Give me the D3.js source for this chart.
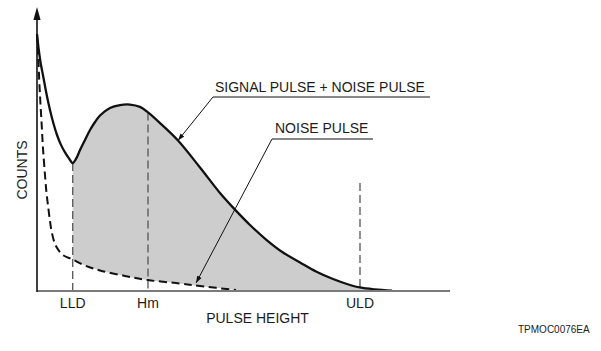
<!DOCTYPE html>
<html>
<head>
<meta charset="utf-8">
<script src="https://cdn.jsdelivr.net/npm/d3@7/dist/d3.min.js"></script>
<style>
  html, body { margin: 0; padding: 0; background: #fff; }
  svg { display: block; }
  text { font-family: "Liberation Sans", Arial, sans-serif; fill: #1c1c1c; }
</style>
</head>
<body>
<script>
// Pulse height distribution: signal + noise vs. noise only
const pulseHeight = [0, 0.37, 0.85, 1.54, 2.37, 3.17, 3.98, 4.88, 5.85, 6.83, 7.80, 8.71, 9.51, 10.49, 11.71, 12.93, 14.15, 15.37, 17.80, 20.24, 22.68, 25.12, 27.07, 30.0, 34.39, 39.76, 44.63, 48.29, 51.95, 56.02, 60.0, 64.15, 68.05, 72.2, 75.6, 78.78, 82.4, 86.6];
const signalCounts = [98.8, 93.5, 88.1, 82.3, 75.4, 69.6, 64.6, 60.0, 56.2, 53.3, 51.0, 49.2, 50.8, 54.2, 58.1, 61.9, 65.0, 67.5, 70.4, 71.5, 71.7, 70.8, 68.7, 64.6, 57.9, 47.5, 37.7, 31.3, 25.4, 19.6, 14.8, 11.0, 7.5, 4.6, 2.7, 1.35, 0.6, 0.1];

const noiseHeight = [0, 0.15, 0.32, 0.54, 0.73, 0.93, 1.15, 1.34, 1.54, 1.95, 2.32, 2.76, 3.17, 3.59, 4.39, 5.2, 6.34, 8.71, 11.71, 15.37, 21.46, 27.07, 34.88, 39.76, 48.54];
const noiseCounts = [98.8, 94.6, 89.6, 81.2, 75.4, 69.6, 63.8, 58.1, 53.1, 44.6, 37.7, 31.9, 26.9, 22.7, 18.1, 15.8, 13.8, 12.1, 9.8, 7.9, 5.8, 4.2, 2.9, 1.9, 0.4];

// Discriminator levels and peak position
const levelNames = ["LLD", "Hm", "ULD"];
const levelValues = [8.71, 27.07, 78.78];
const levelTops = [49.2, 68.7, 41.5];

// Callout labels and the points they point to
const calloutTexts = ["SIGNAL PULSE + NOISE PULSE", "NOISE PULSE"];
const calloutTargets = [[34.39, 57.9], [38.8, 3.1]];

const W = 601, H = 351;
const svg = d3.select("body").append("svg").attr("width", W).attr("height", H);

const x = d3.scaleLinear().domain([0, 100]).range([37, 447]);
const y = d3.scaleLinear().domain([0, 100]).range([291, 31]);

const defs = svg.append("defs");
defs.append("marker")
  .attr("id", "tip").attr("viewBox", "0 0 10 10")
  .attr("refX", 10).attr("refY", 5)
  .attr("markerWidth", 7).attr("markerHeight", 7)
  .attr("markerUnits", "userSpaceOnUse")
  .attr("orient", "auto")
  .append("path").attr("d", "M0,1.5 L10,5 L0,8.5 Z").attr("fill", "#111");

defs.append("clipPath").attr("id", "window")
  .append("rect")
  .attr("x", x(levelValues[0])).attr("y", 0)
  .attr("width", W - x(levelValues[0])).attr("height", y(0));

const signal = pulseHeight.map((h, i) => [h, signalCounts[i]]);
const noise = noiseHeight.map((h, i) => [h, noiseCounts[i]]);

const curve = d3.curveCatmullRom.alpha(0.5);
const line = d3.line().x(d => x(d[0])).y(d => y(d[1])).curve(curve);
const area = d3.area().x(d => x(d[0])).y0(y(0)).y1(d => y(d[1])).curve(curve);

// shaded counting window between the two curves
svg.append("path").datum(signal)
  .attr("d", area).attr("fill", "#cdcdcd").attr("clip-path", "url(#window)");
svg.append("path").datum(noise)
  .attr("d", area).attr("fill", "#fff");

// level markers
levelValues.forEach((v, i) => {
  svg.append("line")
    .attr("x1", x(v)).attr("x2", x(v))
    .attr("y1", y(levelTops[i])).attr("y2", y(0))
    .attr("stroke", "#555").attr("stroke-width", 1.3)
    .attr("stroke-dasharray", "8,4");
  svg.append("text")
    .attr("x", x(v)).attr("y", 308)
    .attr("text-anchor", "middle").attr("font-size", 14)
    .text(levelNames[i]);
});

// curves
svg.append("path").datum(noise)
  .attr("d", line).attr("fill", "none")
  .attr("stroke", "#111").attr("stroke-width", 2)
  .attr("stroke-dasharray", "8,4.5");
svg.append("path").datum(signal)
  .attr("d", line).attr("fill", "none")
  .attr("stroke", "#111").attr("stroke-width", 2.3);

// axes
svg.append("line")
  .attr("x1", x(0)).attr("x2", 450).attr("y1", y(0)).attr("y2", y(0))
  .attr("stroke", "#7a7a7a").attr("stroke-width", 2.2);
svg.append("line")
  .attr("x1", x(0)).attr("x2", x(0)).attr("y1", y(0) + 1).attr("y2", 16)
  .attr("stroke", "#111").attr("stroke-width", 1.6);
svg.append("path")
  .attr("d", `M${x(0)},7 L${x(0) - 3.6},20 L${x(0) + 3.6},20 Z`)
  .attr("fill", "#111");

svg.append("text")
  .attr("transform", "translate(26.5,170) rotate(-90)")
  .attr("text-anchor", "middle").attr("font-size", 14)
  .text("COUNTS");
svg.append("text")
  .attr("x", 257.5).attr("y", 323)
  .attr("text-anchor", "middle").attr("font-size", 14)
  .text("PULSE HEIGHT");

// callouts
const calloutLayout = [
  { tx: 215, ty: 92, ux0: 213, ux1: 430, uy: 97 },
  { tx: 275, ty: 133, ux0: 272, ux1: 373, uy: 139 }
];
calloutTexts.forEach((t, i) => {
  const c = calloutLayout[i];
  svg.append("text")
    .attr("x", c.tx).attr("y", c.ty).attr("font-size", 14)
    .text(t);
  svg.append("line")
    .attr("x1", c.ux0).attr("x2", c.ux1).attr("y1", c.uy).attr("y2", c.uy)
    .attr("stroke", "#111").attr("stroke-width", 1);
  const tgt = calloutTargets[i];
  svg.append("line")
    .attr("x1", c.ux0).attr("y1", c.uy)
    .attr("x2", x(tgt[0])).attr("y2", y(tgt[1]))
    .attr("stroke", "#111").attr("stroke-width", 1)
    .attr("marker-end", "url(#tip)");
});

svg.append("text")
  .attr("x", 518).attr("y", 333).attr("font-size", 10)
  .text("TPMOC0076EA");
</script>
</body>
</html>
